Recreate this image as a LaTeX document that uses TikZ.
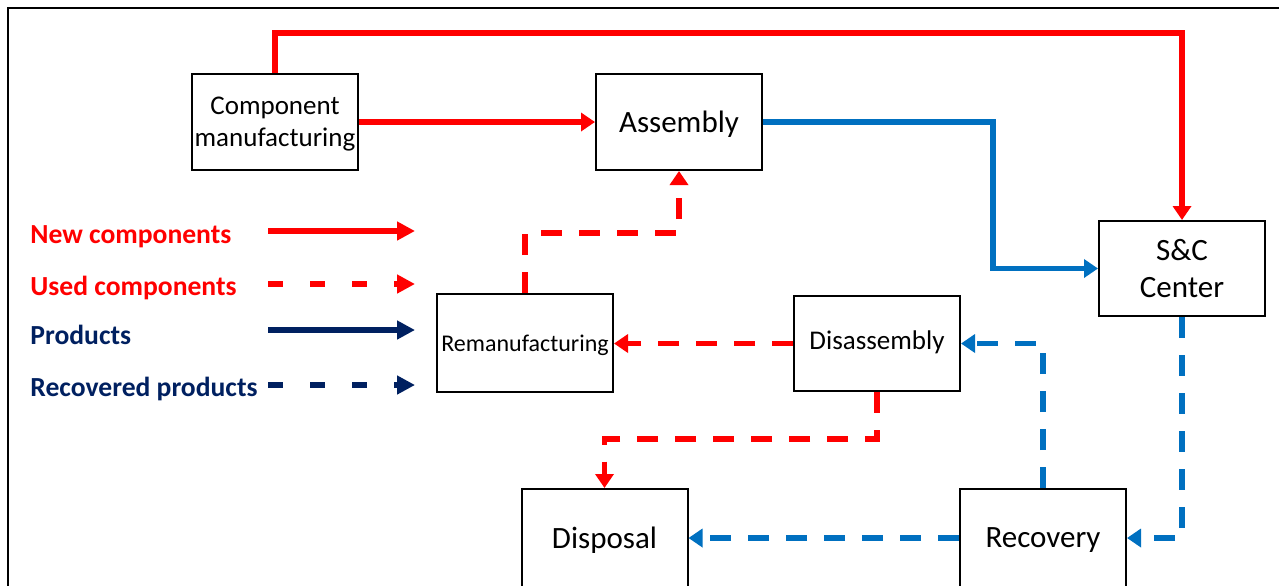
\documentclass[tikz,border=0pt]{standalone}
\usepackage{fontspec}
\setmainfont{Carlito}
\usetikzlibrary{arrows.meta}
\definecolor{newred}{HTML}{FF0000}
\definecolor{prodblue}{HTML}{0070C0}
\definecolor{navy}{HTML}{002060}
\begin{document}
\begin{tikzpicture}[x=0.5pt,y=-0.5pt,
  box/.style={draw=black,line width=1pt,rectangle,inner sep=0pt,align=center,
    minimum width=83pt,minimum height=48pt,text=black,text depth=0pt,
    font=\fontsize{15.5}{18.5}\selectfont},
  flow/.style={line width=2.6pt,-{Triangle[length=7pt,width=9pt]}},
  newc/.style={flow,draw=newred},
  usedc/.style={flow,draw=newred,dash pattern=on 10.5pt off 8.5pt},
  prod/.style={flow,draw=prodblue},
  recp/.style={flow,draw=prodblue,dash pattern=on 10.5pt off 8.5pt},
  legarrow/.style={line width=2.7pt,-{Triangle[length=9pt,width=9pt]}},
  legtext/.style={anchor=west,inner sep=0pt,font=\fontsize{13.8}{16}\selectfont\bfseries}
]
\useasboundingbox (0,0) rectangle (1279,585);
\begin{scope}
  \clip (0,0) rectangle (1279,585);
  % outer frame
  \draw[line width=1.2pt] (8,700) -- (8,8) -- (1300,8);

  % process boxes
  \node[box,font=\fontsize{13.5}{16}\selectfont] (comp) at (275,122) {Component\\manufacturing};
  \node[box] (asm) at (679,122) {Assembly};
  \node[box,minimum height=47.5pt] (sc) at (1182,268.5) {S\&C\\Center};
  \node[box,minimum width=88pt,minimum height=49pt,font=\fontsize{12}{14}\selectfont] (reman) at (525,343) {Remanufacturing};
  \node[box,minimum height=47.5pt,text depth=3pt,font=\fontsize{13.5}{16}\selectfont] (dis) at (877,343.5) {Disassembly};
  \node[box,minimum height=49pt] (disp) at (604.5,538) {Disposal};
  \node[box,minimum height=49pt] (rec) at (1043,538) {Recovery};

  % bend points
  \coordinate (ctop) at (700,33);
  \coordinate (cprod) at (993,200);
  \coordinate (cdisp) at (700,439);
  \coordinate (creman) at (600,233);

  % new components
  \draw[newc] (comp.north) |- (ctop) -| (sc.north);
  \draw[newc] (comp.east) -- (asm.west);
  % products
  \draw[prod] (asm.east) -| (cprod) |- (sc.west);
  % recovered products
  \draw[recp] (sc.south) |- (rec.east);
  \draw[recp] (rec.west) -- (disp.east);
  \draw[recp] (rec.north) |- (dis.east);
  % used components
  \draw[usedc] (dis.west) -- (dis.west -| reman.east);
  \draw[usedc] (dis.south) |- (cdisp) -| (disp.north);
  \draw[usedc] (reman.north) |- (creman) -| (asm.south);

  % legend
  \node[legtext,text=newred] (lnew) at (30,237) {New components};
  \node[legtext,text=newred] (lused) at (30,288) {Used components};
  \node[legtext,text=navy] (lprod) at (30,335) {Products};
  \node[legtext,text=navy] (lrec) at (30,389) {Recovered products};
  \coordinate (l1a) at (268,231); \coordinate (l1b) at (415,231);
  \coordinate (l2a) at (268,284); \coordinate (l2b) at (415,284);
  \coordinate (l3a) at (268,330); \coordinate (l3b) at (415,330);
  \coordinate (l4a) at (268,385); \coordinate (l4b) at (415,385);
  \draw[legarrow,draw=newred] (l1a) -- (l1b);
  \draw[legarrow,draw=newred,dash pattern=on 7.5pt off 13.5pt] (l2a) -- (l2b);
  \draw[legarrow,draw=navy] (l3a) -- (l3b);
  \draw[legarrow,draw=navy,dash pattern=on 7.5pt off 13.5pt] (l4a) -- (l4b);
\end{scope}
\end{tikzpicture}
\end{document}
